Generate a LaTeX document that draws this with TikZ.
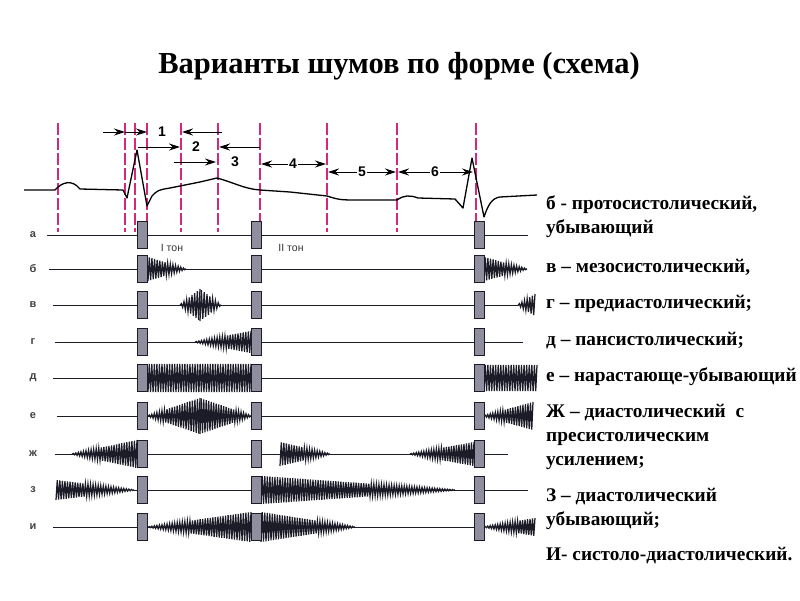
\documentclass[tikz,border=0pt]{standalone}
\usepackage{fontspec}
\setmainfont{Liberation Serif}
\setsansfont{Liberation Sans}
\usetikzlibrary{arrows.meta}
\definecolor{mag}{HTML}{D4287E}
\definecolor{ink}{HTML}{1C1C28}
\definecolor{boxc}{HTML}{8E8E9E}
\newcommand\nz[6]{\draw[nzs] plot[domain=0:#6-1,samples=#6] ({#1+(#2-#1)*(\x/(#6-1))},{#5+(#3+(#4-#3)*(\x/(#6-1)))*(1-2*mod(round(\x),2))});}
\begin{document}
\begin{tikzpicture}[x=1pt,y=-1pt,
  nzs/.style={ink,line width=1.25pt,line join=miter},
  base/.style={ink,line width=0.9pt},
  tonebox/.style={draw=ink,fill=boxc,line width=0.7pt,minimum width=10pt,minimum height=27pt,inner sep=0pt},
  vline/.style={mag,line width=1.1pt,dash pattern=on 12pt off 3pt},
  ecg/.style={black,line width=1.3pt,line join=round},
  iarrow/.style={black,line width=1pt,-{Stealth[length=11pt,width=7pt]}},
  inum/.style={font=\sffamily\bfseries\fontsize{14}{14}\selectfont,inner sep=1pt},
  rowlab/.style={font=\sffamily\bfseries\fontsize{11}{11}\selectfont,text=black!75},
  tonelab/.style={font=\sffamily\fontsize{10.5}{10.5}\selectfont,text=black!80},
  desc/.style={font=\bfseries\fontsize{19.3}{24}\selectfont,anchor=west,inner sep=0pt,align=left}]
\useasboundingbox (0,0) rectangle (800,600);
\node[font=\bfseries\fontsize{30.5}{30.5}\selectfont] (title) at (399,66) {Варианты шумов по форме (схема)};
% dashed vertical lines
\foreach \xx [count=\i] in {58,125,135,147,181,218,260,327,397,476}
  \draw[vline] (\xx,123) coordinate (vt\i) -- (\xx,232) coordinate (vb\i);
% ECG
\draw[ecg] (24,190) -- (55,190) .. controls (62,182) and (72,179) .. (80,189) -- (123,190) -- (127,198) -- (137,150) -- (147,206) -- (152,196) .. controls (158,190) .. (170,188) -- (200,182) -- (217,178) .. controls (235,183) and (245,189) .. (260,190) -- (290,192) -- (327,196) .. controls (340,200) .. (360,200) -- (397,200) .. controls (404,195) and (410,195) .. (418,198) -- (455,199) -- (463,208) -- (472,158) -- (484,217) .. controls (488,205) and (492,198) .. (500,197) -- (537,195);
% interval arrows
\coordinate (a1s) at (103,132); \coordinate (a1m) at (125,132); \coordinate (a1e) at (147,132);
\draw[iarrow] (a1s) -- (a1m); \draw[iarrow] (a1m) -- (a1e);
\node[inum] (n1) at (162,132) {1};
\coordinate (a1r) at (222,132); \coordinate (a1re) at (182,132);
\draw[iarrow] (a1r) -- (a1re);
\coordinate (a2s) at (138,147); \coordinate (a2e) at (180,147);
\draw[iarrow] (a2s) -- (a2e);
\node[inum] (n2) at (196,147) {2};
\coordinate (a2r) at (260,147); \coordinate (a2re) at (219,147);
\draw[iarrow] (a2r) -- (a2re);
\coordinate (a3s) at (174,162); \coordinate (a3e) at (216,162);
\draw[iarrow] (a3s) -- (a3e);
\node[inum] (n3) at (235,162) {3};
\node[inum] (n4) at (293,164) {4};
\coordinate (a4l) at (261,164); \coordinate (a4r) at (326,164);
\draw[iarrow] (n4) -- (a4l); \draw[iarrow] (n4) -- (a4r);
\node[inum] (n5) at (362,172) {5};
\coordinate (a5l) at (328,172); \coordinate (a5r) at (396,172);
\draw[iarrow] (n5) -- (a5l); \draw[iarrow] (n5) -- (a5r);
\node[inum] (n6) at (435,172) {6};
\coordinate (a6l) at (398,172); \coordinate (a6r) at (473,172);
\draw[iarrow] (n6) -- (a6l); \draw[iarrow] (n6) -- (a6r);
% row labels and base lines
\foreach \r/\yy/\l/\xs/\xe in {a/235/а/47/528, b/269/б/49/527, v/305/в/53/518, g/342/г/55/523, d/378/д/53/484, e/416/е/57/484, zh/454/ж/55/508, z/490/з/133/528, i/527/и/53/484}{
  \node[rowlab] (lab-\r) at (33,\yy) {\l};
  \draw[base] (\xs,\yy) coordinate (s-\r) -- (\xe,\yy) coordinate (e-\r);
}
% noises
% б
\nz{148}{186}{12}{0.3}{269}{30}
\nz{484}{527}{12}{0.3}{269}{34}
% в
\nz{180}{200}{0.3}{16}{305}{16}
\nz{200}{221}{16}{0.3}{305}{16}
\nz{518}{535}{0.5}{11}{305}{14}
% г
\nz{195}{251}{0.3}{11}{342}{44}
% д
\nz{148}{251}{14}{14}{378}{82}
\nz{484}{537}{13}{13}{378}{42}
% е
\nz{148}{200}{0.5}{18}{416}{42}
\nz{200}{251}{18}{0.5}{416}{42}
\nz{484}{533}{0.5}{14}{416}{40}
% ж
\nz{72}{137}{0.3}{14}{454}{52}
\nz{280}{330}{12}{0.3}{454}{40}
\nz{410}{474}{0.3}{12}{454}{52}
% з
\nz{56}{134}{10}{0.3}{490}{62}
\nz{261}{455}{14}{0.3}{490}{154}
% и
\nz{148}{251}{0.3}{15}{527}{82}
\nz{261}{355}{15}{0.3}{527}{76}
\nz{484}{535}{0.3}{9}{527}{42}
% tone boxes
\foreach \r/\yy in {a/235, b/269, v/305, g/342, d/378, e/416, zh/454, z/490, i/527}{
  \node[tonebox] (t1-\r) at (142.5,\yy) {};
  \node[tonebox] (t2-\r) at (256,\yy) {};
  \node[tonebox] (t3-\r) at (479,\yy) {};
}
\node[tonelab] (ton1) at (172,248) {I тон};
\node[tonelab] (ton2) at (291,248) {II тон};
% descriptions
\node[desc] (d1) at (546,217) {б - протосистолический,\\убывающий};
\node[desc] (d2) at (546,267) {в – мезосистолический,};
\node[desc] (d3) at (546,304) {г – предиастолический;};
\node[desc] (d4) at (546,341) {д – пансистолический;};
\node[desc] (d5) at (546,377) {е – нарастающе-убывающий};
\node[desc] (d6) at (546,437) {Ж – диастолический~ с\\пресистолическим\\усилением;};
\node[desc] (d7) at (546,509) {З – диастолический\\убывающий;};
\node[desc] (d8) at (546,556) {И- систоло-диастолический.};
\end{tikzpicture}
\end{document}
